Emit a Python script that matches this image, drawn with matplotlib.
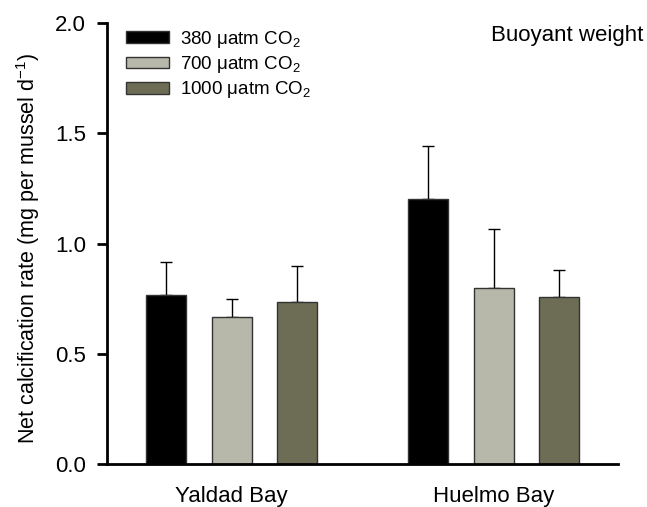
import numpy as np
import matplotlib
matplotlib.use("Agg")
import matplotlib.pyplot as plt

plt.rcParams['font.family'] = ['Liberation Sans', 'DejaVu Sans']
plt.rcParams['mathtext.fontset'] = 'custom'
plt.rcParams['mathtext.rm'] = 'Liberation Sans'
plt.rcParams['mathtext.it'] = 'Liberation Sans:italic'

# data
sites = ["Yaldad Bay", "Huelmo Bay"]
treatments = ["380 \u03bcatm CO$_2$", "700 \u03bcatm CO$_2$", "1000 \u03bcatm CO$_2$"]
rate_380 = [0.765, 1.20]
rate_700 = [0.668, 0.800]
rate_1000 = [0.737, 0.758]
err_380 = [0.150, 0.243]
err_700 = [0.082, 0.265]
err_1000 = [0.162, 0.120]
colors = ["#000000", "#b8b8aa", "#6d6d55"]

fig = plt.figure(figsize=(6.47, 5.07), dpi=100)
ax = fig.add_axes([0.1654, 0.0848, 0.7896, 0.8698])

x = np.arange(len(sites))
width = 0.153
offsets = [-0.25, 0.0, 0.25]
series = [(rate_380, err_380), (rate_700, err_700), (rate_1000, err_1000)]

for i, (vals, errs) in enumerate(series):
    ax.bar(x + offsets[i], vals, width, color=colors[i], edgecolor="#333333",
           linewidth=1.0, label=treatments[i], zorder=2)
    ax.errorbar(x + offsets[i], vals, yerr=[np.zeros(len(errs)), errs],
                fmt="none", ecolor="black", elinewidth=1.0, capsize=4.5,
                capthick=1.0, zorder=1)

ax.set_xlim(-0.476, 1.474)
ax.set_ylim(0, 2.0)
ax.set_yticks([0.0, 0.5, 1.0, 1.5, 2.0])
ax.set_yticklabels(["0.0", "0.5", "1.0", "1.5", "2.0"], fontsize=16)
ax.set_xticks(x)
ax.set_xticklabels(sites, fontsize=16)
ax.tick_params(axis="x", length=0, pad=16)
ax.tick_params(axis="y", direction="out", length=7, width=2, pad=8)

for side in ["top", "right"]:
    ax.spines[side].set_visible(False)
for side in ["left", "bottom"]:
    ax.spines[side].set_linewidth(2)

ax.set_ylabel("Net calcification rate (mg per mussel d$^{-1}$)", fontsize=15.5)
ax.yaxis.set_label_coords(-0.128, 0.49)

ax.legend(loc="upper left", bbox_to_anchor=(0.03, 0.995), frameon=False,
          fontsize=13.5, handlelength=2.3, handleheight=0.6,
          labelspacing=0.22, handletextpad=0.55, borderaxespad=0.0,
          borderpad=0.2)

fig.text(0.994, 0.93, "Buoyant weight", ha="right", va="center", fontsize=16)

fig.savefig("out.png", dpi=100)
